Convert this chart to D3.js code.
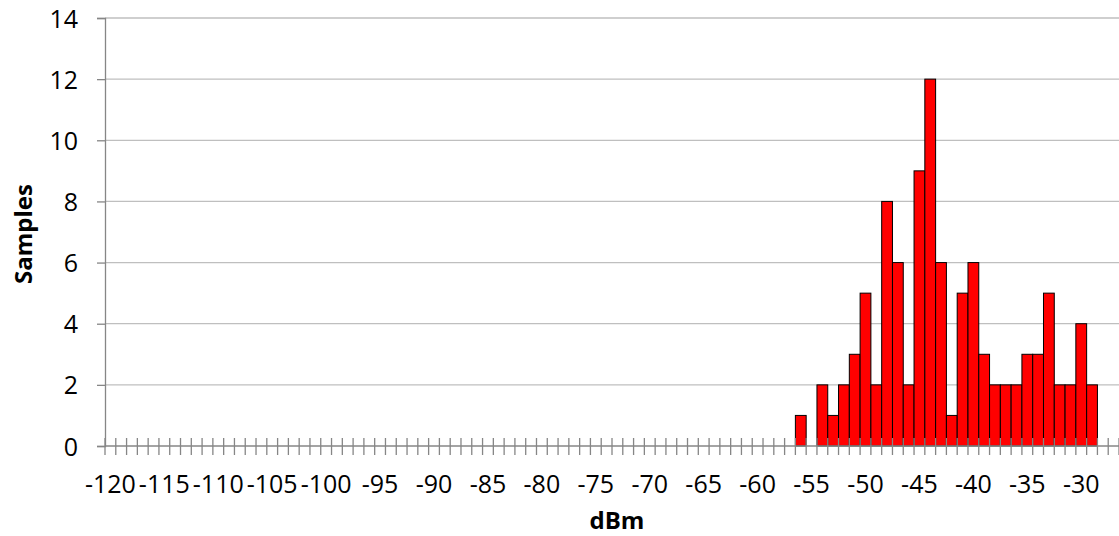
<!DOCTYPE html>
<html>
<head>
<meta charset="utf-8">
<script src="https://cdn.jsdelivr.net/npm/d3@7"></script>
<style>
  html, body { margin: 0; padding: 0; background: #fff; }
  svg { display: block; font-family: "Open Sans", "Liberation Sans", Arial, sans-serif; }
</style>
</head>
<body>
<svg id="chart" width="1119" height="536"></svg>
<script>
// Histogram bins (dBm), -120 .. -27
const categories = [
  -120,-119,-118,-117,-116,-115,-114,-113,-112,-111,
  -110,-109,-108,-107,-106,-105,-104,-103,-102,-101,
  -100,-99,-98,-97,-96,-95,-94,-93,-92,-91,
  -90,-89,-88,-87,-86,-85,-84,-83,-82,-81,
  -80,-79,-78,-77,-76,-75,-74,-73,-72,-71,
  -70,-69,-68,-67,-66,-65,-64,-63,-62,-61,
  -60,-59,-58,-57,-56,-55,-54,-53,-52,-51,
  -50,-49,-48,-47,-46,-45,-44,-43,-42,-41,
  -40,-39,-38,-37,-36,-35,-34,-33,-32,-31,
  -30,-29,-28,-27
];
// Sample counts per bin
const samples = [
  0,0,0,0,0,0,0,0,0,0,
  0,0,0,0,0,0,0,0,0,0,
  0,0,0,0,0,0,0,0,0,0,
  0,0,0,0,0,0,0,0,0,0,
  0,0,0,0,0,0,0,0,0,0,
  0,0,0,0,0,0,0,0,0,0,
  0,0,0,0,1,0,2,1,2,3,
  5,2,8,6,2,9,12,6,1,5,
  6,3,2,2,2,3,3,5,2,2,
  4,2,0,0
];
const xTickLabels = [-120,-115,-110,-105,-100,-95,-90,-85,-80,-75,-70,-65,-60,-55,-50,-45,-40,-35,-30];
const yTicks = [0,2,4,6,8,10,12,14];
const xTitle = "dBm";
const yTitle = "Samples";

const data = categories.map((c, i) => ({ c, v: samples[i] }));

const svg = d3.select("#chart");
const pLeft = 105, pRight = 1119, pTop = 18, pBottom = 446;
const fontFam = "'Open Sans', 'Liberation Sans', Arial, sans-serif";

const x = d3.scaleBand().domain(categories).range([pLeft, pRight]).padding(0);
const y = d3.scaleLinear().domain([0, 14]).range([pBottom, pTop]);

// gridlines
svg.append("g")
  .selectAll("line")
  .data(yTicks.filter(d => d > 0))
  .join("line")
  .attr("x1", pLeft).attr("x2", pRight)
  .attr("y1", d => y(d)).attr("y2", d => y(d))
  .attr("stroke", "#bfbfbf").attr("stroke-width", 1.3);

// y axis
const yAxis = svg.append("g")
  .attr("transform", `translate(${pLeft},0)`)
  .call(d3.axisLeft(y).tickValues(yTicks).tickSize(8).tickPadding(19).tickFormat(d3.format("d")));
yAxis.select(".domain").attr("stroke", "#868686").attr("stroke-width", 1.3);
yAxis.selectAll(".tick line").attr("stroke", "#868686").attr("stroke-width", 1.3);
yAxis.selectAll(".tick text").attr("font-size", 25).attr("fill", "#000")
  .attr("dy", "0.36em")
  .attr("font-family", fontFam);

// bars
svg.append("g")
  .selectAll("rect")
  .data(data.filter(d => d.v > 0))
  .join("rect")
  .attr("x", d => x(d.c))
  .attr("width", x.bandwidth())
  .attr("y", d => y(d.v))
  .attr("height", d => y(0) - y(d.v))
  .attr("fill", "#ff0000")
  .attr("stroke", "#000")
  .attr("stroke-width", 1);

// x axis line
svg.append("line")
  .attr("x1", pLeft).attr("x2", pRight)
  .attr("y1", pBottom).attr("y2", pBottom)
  .attr("stroke", "#868686").attr("stroke-width", 1.3);

// x tick marks at category boundaries (crossing)
const boundaries = categories.map(c => x(c)).concat([x(categories[categories.length - 1]) + x.bandwidth()]);
svg.append("g")
  .selectAll("line")
  .data(boundaries)
  .join("line")
  .attr("x1", d => d).attr("x2", d => d)
  .attr("y1", pBottom - 8).attr("y2", pBottom + 9)
  .attr("stroke", "#868686").attr("stroke-width", 1.3);

// x tick labels
svg.append("g")
  .selectAll("text")
  .data(xTickLabels)
  .join("text")
  .attr("x", d => x(d) + x.bandwidth() / 2)
  .attr("y", 493)
  .attr("text-anchor", "middle")
  .attr("font-size", 25)
  .attr("font-family", fontFam)
  .attr("fill", "#000")
  .text(d => d);

// titles
svg.append("text")
  .attr("x", 617).attr("y", 529)
  .attr("text-anchor", "middle")
  .attr("font-size", 24).attr("font-weight", "bold")
  .attr("font-family", fontFam)
  .text(xTitle);

svg.append("text")
  .attr("transform", `translate(32,234) rotate(-90)`)
  .attr("text-anchor", "middle")
  .attr("font-size", 24).attr("font-weight", "bold")
  .attr("font-family", fontFam)
  .text(yTitle);
</script>
</body>
</html>
